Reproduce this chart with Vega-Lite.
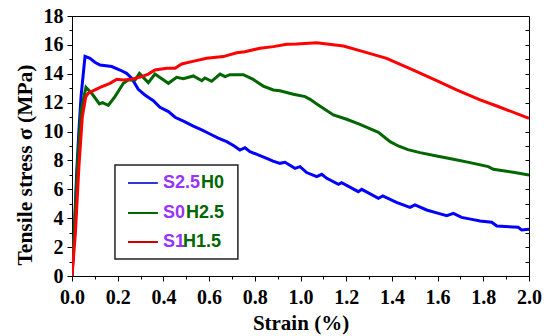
{
 "$schema": "https://vega.github.io/schema/vega-lite/v6.json",
 "width": 457, "height": 260,
 "autosize": {"type": "none"},
 "padding": {"left": 72, "top": 16, "right": 19, "bottom": 60},
 "background": "white",
 "config": {
  "view": {"stroke": "black", "strokeWidth": 1}
 },
 "datasets": {
  "curves": [
   {"series":"S2.5H0","strain":0,"stress":0},{"series":"S2.5H0","strain":0.01,"stress":3},{"series":"S2.5H0","strain":0.02,"stress":7},{"series":"S2.5H0","strain":0.03,"stress":10},{"series":"S2.5H0","strain":0.04,"stress":12.5},{"series":"S2.5H0","strain":0.057,"stress":15.2},{"series":"S2.5H0","strain":0.079,"stress":15.07},{"series":"S2.5H0","strain":0.1,"stress":14.8},{"series":"S2.5H0","strain":0.123,"stress":14.6},{"series":"S2.5H0","strain":0.174,"stress":14.5},{"series":"S2.5H0","strain":0.21,"stress":14.26},{"series":"S2.5H0","strain":0.239,"stress":14.03},{"series":"S2.5H0","strain":0.261,"stress":13.69},{"series":"S2.5H0","strain":0.29,"stress":12.92},{"series":"S2.5H0","strain":0.319,"stress":12.53},{"series":"S2.5H0","strain":0.356,"stress":12.14},{"series":"S2.5H0","strain":0.385,"stress":11.68},{"series":"S2.5H0","strain":0.422,"stress":11.38},{"series":"S2.5H0","strain":0.451,"stress":10.99},{"series":"S2.5H0","strain":0.49,"stress":10.7},{"series":"S2.5H0","strain":0.531,"stress":10.38},{"series":"S2.5H0","strain":0.57,"stress":10.1},{"series":"S2.5H0","strain":0.604,"stress":9.83},{"series":"S2.5H0","strain":0.64,"stress":9.55},{"series":"S2.5H0","strain":0.677,"stress":9.3},{"series":"S2.5H0","strain":0.71,"stress":9.0},{"series":"S2.5H0","strain":0.735,"stress":8.72},{"series":"S2.5H0","strain":0.757,"stress":8.88},{"series":"S2.5H0","strain":0.779,"stress":8.61},{"series":"S2.5H0","strain":0.82,"stress":8.35},{"series":"S2.5H0","strain":0.852,"stress":8.15},{"series":"S2.5H0","strain":0.88,"stress":7.95},{"series":"S2.5H0","strain":0.91,"stress":7.8},{"series":"S2.5H0","strain":0.932,"stress":7.87},{"series":"S2.5H0","strain":0.976,"stress":7.45},{"series":"S2.5H0","strain":0.998,"stress":7.57},{"series":"S2.5H0","strain":1.027,"stress":7.16},{"series":"S2.5H0","strain":1.071,"stress":6.88},{"series":"S2.5H0","strain":1.093,"stress":7.04},{"series":"S2.5H0","strain":1.115,"stress":6.76},{"series":"S2.5H0","strain":1.166,"stress":6.35},{"series":"S2.5H0","strain":1.18,"stress":6.46},{"series":"S2.5H0","strain":1.253,"stress":5.84},{"series":"S2.5H0","strain":1.268,"stress":6.0},{"series":"S2.5H0","strain":1.341,"stress":5.38},{"series":"S2.5H0","strain":1.36,"stress":5.54},{"series":"S2.5H0","strain":1.42,"stress":5.1},{"series":"S2.5H0","strain":1.479,"stress":4.75},{"series":"S2.5H0","strain":1.501,"stress":4.92},{"series":"S2.5H0","strain":1.552,"stress":4.57},{"series":"S2.5H0","strain":1.6,"stress":4.35},{"series":"S2.5H0","strain":1.64,"stress":4.18},{"series":"S2.5H0","strain":1.669,"stress":4.34},{"series":"S2.5H0","strain":1.705,"stress":4.06},{"series":"S2.5H0","strain":1.75,"stress":3.92},{"series":"S2.5H0","strain":1.786,"stress":3.81},{"series":"S2.5H0","strain":1.837,"stress":3.72},{"series":"S2.5H0","strain":1.859,"stress":3.46},{"series":"S2.5H0","strain":1.953,"stress":3.37},{"series":"S2.5H0","strain":1.968,"stress":3.18},{"series":"S2.5H0","strain":2.0,"stress":3.23},
   {"series":"S0H2.5","strain":0,"stress":0},{"series":"S0H2.5","strain":0.01,"stress":3},{"series":"S0H2.5","strain":0.025,"stress":8},{"series":"S0H2.5","strain":0.04,"stress":11.5},{"series":"S0H2.5","strain":0.061,"stress":13.06},{"series":"S0H2.5","strain":0.086,"stress":12.65},{"series":"S0H2.5","strain":0.12,"stress":11.91},{"series":"S0H2.5","strain":0.134,"stress":12.0},{"series":"S0H2.5","strain":0.159,"stress":11.82},{"series":"S0H2.5","strain":0.188,"stress":12.42},{"series":"S0H2.5","strain":0.225,"stress":13.34},{"series":"S0H2.5","strain":0.246,"stress":13.57},{"series":"S0H2.5","strain":0.276,"stress":13.57},{"series":"S0H2.5","strain":0.295,"stress":14.03},{"series":"S0H2.5","strain":0.334,"stress":13.39},{"series":"S0H2.5","strain":0.363,"stress":13.98},{"series":"S0H2.5","strain":0.422,"stress":13.34},{"series":"S0H2.5","strain":0.458,"stress":13.75},{"series":"S0H2.5","strain":0.487,"stress":13.66},{"series":"S0H2.5","strain":0.531,"stress":13.85},{"series":"S0H2.5","strain":0.568,"stress":13.52},{"series":"S0H2.5","strain":0.582,"stress":13.71},{"series":"S0H2.5","strain":0.611,"stress":13.48},{"series":"S0H2.5","strain":0.648,"stress":13.98},{"series":"S0H2.5","strain":0.67,"stress":13.8},{"series":"S0H2.5","strain":0.691,"stress":13.94},{"series":"S0H2.5","strain":0.75,"stress":13.94},{"series":"S0H2.5","strain":0.793,"stress":13.61},{"series":"S0H2.5","strain":0.837,"stress":13.15},{"series":"S0H2.5","strain":0.881,"stress":12.88},{"series":"S0H2.5","strain":0.91,"stress":12.83},{"series":"S0H2.5","strain":0.969,"stress":12.58},{"series":"S0H2.5","strain":1.02,"stress":12.42},{"series":"S0H2.5","strain":1.042,"stress":12.23},{"series":"S0H2.5","strain":1.071,"stress":11.91},{"series":"S0H2.5","strain":1.144,"stress":11.15},{"series":"S0H2.5","strain":1.202,"stress":10.85},{"series":"S0H2.5","strain":1.26,"stress":10.5},{"series":"S0H2.5","strain":1.341,"stress":9.95},{"series":"S0H2.5","strain":1.392,"stress":9.3},{"series":"S0H2.5","strain":1.428,"stress":9.0},{"series":"S0H2.5","strain":1.47,"stress":8.75},{"series":"S0H2.5","strain":1.523,"stress":8.54},{"series":"S0H2.5","strain":1.596,"stress":8.31},{"series":"S0H2.5","strain":1.669,"stress":8.08},{"series":"S0H2.5","strain":1.742,"stress":7.85},{"series":"S0H2.5","strain":1.822,"stress":7.57},{"series":"S0H2.5","strain":1.844,"stress":7.39},{"series":"S0H2.5","strain":1.931,"stress":7.18},{"series":"S0H2.5","strain":2.0,"stress":6.99},
   {"series":"S1H1.5","strain":0,"stress":0},{"series":"S1H1.5","strain":0.015,"stress":3},{"series":"S1H1.5","strain":0.03,"stress":7.5},{"series":"S1H1.5","strain":0.045,"stress":11},{"series":"S1H1.5","strain":0.06,"stress":12.4},{"series":"S1H1.5","strain":0.071,"stress":12.65},{"series":"S1H1.5","strain":0.123,"stress":13.06},{"series":"S1H1.5","strain":0.166,"stress":13.34},{"series":"S1H1.5","strain":0.196,"stress":13.62},{"series":"S1H1.5","strain":0.225,"stress":13.57},{"series":"S1H1.5","strain":0.261,"stress":13.62},{"series":"S1H1.5","strain":0.305,"stress":13.8},{"series":"S1H1.5","strain":0.334,"stress":13.98},{"series":"S1H1.5","strain":0.363,"stress":14.26},{"series":"S1H1.5","strain":0.414,"stress":14.38},{"series":"S1H1.5","strain":0.451,"stress":14.38},{"series":"S1H1.5","strain":0.48,"stress":14.68},{"series":"S1H1.5","strain":0.524,"stress":14.84},{"series":"S1H1.5","strain":0.589,"stress":15.07},{"series":"S1H1.5","strain":0.662,"stress":15.19},{"series":"S1H1.5","strain":0.721,"stress":15.46},{"series":"S1H1.5","strain":0.757,"stress":15.53},{"series":"S1H1.5","strain":0.823,"stress":15.77},{"series":"S1H1.5","strain":0.881,"stress":15.88},{"series":"S1H1.5","strain":0.94,"stress":16.04},{"series":"S1H1.5","strain":0.983,"stress":16.06},{"series":"S1H1.5","strain":1.071,"stress":16.15},{"series":"S1H1.5","strain":1.188,"stress":15.92},{"series":"S1H1.5","strain":1.275,"stress":15.53},{"series":"S1H1.5","strain":1.377,"stress":15.07},{"series":"S1H1.5","strain":1.494,"stress":14.26},{"series":"S1H1.5","strain":1.596,"stress":13.52},{"series":"S1H1.5","strain":1.683,"stress":12.88},{"series":"S1H1.5","strain":1.786,"stress":12.19},{"series":"S1H1.5","strain":1.859,"stress":11.77},{"series":"S1H1.5","strain":2.0,"stress":10.92}
  ]
 },
 "resolve": {"axis": {"x": "independent", "y": "independent"}},
 "layer": [
  {
   "data": {"name": "curves"},
   "mark": {"type": "line", "strokeWidth": 3, "clip": true},
   "encoding": {
    "x": {"field": "strain", "type": "quantitative", "scale": {"domain": [0, 2], "nice": false},
     "axis": {"values": [0,0.1,0.2,0.3,0.4,0.5,0.6,0.7,0.8,0.9,1.0,1.1,1.2,1.3,1.4,1.5,1.6,1.7,1.8,1.9,2.0],
      "labelExpr": "round(datum.value*10) % 2 === 0 ? format(datum.value, '.1f') : ''",
      "tickSize": {"condition": {"test": "round(datum.value*10) % 2 === 0", "value": 5}, "value": 3},
      "grid": false, "domainColor": "black", "tickColor": "black", "labelColor": "black", "titleColor": "black",
      "labelFont": "Liberation Serif", "titleFont": "Liberation Serif", "labelFontWeight": "bold", "titleFontWeight": "bold",
      "labelFontSize": 20, "titleFontSize": 21,
      "labelOverlap": false, "labelFlush": false, "labelPadding": 6, "title": "Strain (%)",
      "titleBaseline": "alphabetic", "titleY": 53, "titleX": 228.5, "titleAlign": "center"}},
    "y": {"field": "stress", "type": "quantitative", "scale": {"domain": [0, 18], "nice": false},
     "axis": {"values": [0,1,2,3,4,5,6,7,8,9,10,11,12,13,14,15,16,17,18],
      "labelExpr": "datum.value % 2 === 0 ? datum.label : ''",
      "tickSize": {"condition": {"test": "datum.value % 2 === 0", "value": 5}, "value": 3},
      "grid": false, "domainColor": "black", "tickColor": "black", "labelColor": "black", "titleColor": "black",
      "labelFont": "Liberation Serif", "titleFont": "Liberation Serif", "labelFontWeight": "bold", "titleFontWeight": "bold",
      "labelFontSize": 20, "titleFontSize": 21.5,
      "labelOverlap": false, "labelFlush": false, "labelPadding": 4, "title": "Tensile stress σ (MPa)",
      "titleBaseline": "alphabetic", "titleAngle": 270, "titleAlign": "left", "titleX": -40.5, "titleY": 249}},
    "color": {"field": "series", "type": "nominal", "legend": null,
     "scale": {"domain": ["S2.5H0", "S0H2.5", "S1H1.5"], "range": ["#0000ff", "#006600", "#ff0000"]}},
    "order": {"field": "strain", "type": "quantitative"}
   }
  },
  {
   "data": {"name": "curves"},
   "mark": {"type": "point", "opacity": 0},
   "encoding": {
    "x": {"field": "strain", "type": "quantitative", "scale": {"domain": [0, 2], "nice": false}, "axis": null},
    "y": {"field": "stress", "type": "quantitative", "scale": {"domain": [0, 18], "nice": false},
     "axis": {"orient": "right", "values": [1,2,3,4,5,6,7,8,9,10,11,12,13,14,15,16,17], "labels": false, "domain": false, "tickSize": -4, "tickColor": "black", "grid": false, "title": null}}
   }
  },
  {
   "data": {"values": [{"item": "box"}]},
   "mark": {"type": "rect", "fill": "white", "stroke": "#222222", "strokeWidth": 1.5},
   "encoding": {
    "x": {"datum": 0.188, "type": "quantitative", "scale": {"domain": [0, 2], "nice": false}, "axis": null},
    "x2": {"datum": 0.726},
    "y": {"datum": 7.685, "type": "quantitative", "scale": {"domain": [0, 18], "nice": false}, "axis": null},
    "y2": {"datum": 1.177}
   }
  },
  {
   "data": {"values": [{"item": "l1"}]},
   "mark": {"type": "rule", "stroke": "#3333dd", "strokeWidth": 2},
   "encoding": {
    "x": {"datum": 0.245, "type": "quantitative", "scale": {"domain": [0, 2], "nice": false}, "axis": null},
    "x2": {"datum": 0.376},
    "y": {"datum": 6.44, "type": "quantitative", "scale": {"domain": [0, 18], "nice": false}, "axis": null}
   }
  },
  {
   "data": {"values": [{"item": "l2"}]},
   "mark": {"type": "rule", "stroke": "#006600", "strokeWidth": 2},
   "encoding": {
    "x": {"datum": 0.245, "type": "quantitative", "scale": {"domain": [0, 2], "nice": false}, "axis": null},
    "x2": {"datum": 0.376},
    "y": {"datum": 4.36, "type": "quantitative", "scale": {"domain": [0, 18], "nice": false}, "axis": null}
   }
  },
  {
   "data": {"values": [{"item": "l3"}]},
   "mark": {"type": "rule", "stroke": "#cc0000", "strokeWidth": 2},
   "encoding": {
    "x": {"datum": 0.245, "type": "quantitative", "scale": {"domain": [0, 2], "nice": false}, "axis": null},
    "x2": {"datum": 0.376},
    "y": {"datum": 2.354, "type": "quantitative", "scale": {"domain": [0, 18], "nice": false}, "axis": null}
   }
  },
  {
   "data": {"values": [{"item": "t1"}]},
   "mark": {"type": "text", "text": "S2.5", "align": "left", "baseline": "middle", "font": "Liberation Sans", "fontWeight": "bold", "fontSize": 18, "color": "#9933ff"},
   "encoding": {
    "x": {"datum": 0.398, "type": "quantitative", "scale": {"domain": [0, 2], "nice": false}, "axis": null},
    "y": {"datum": 6.44, "type": "quantitative", "scale": {"domain": [0, 18], "nice": false}, "axis": null}
   }
  },
  {
   "data": {"values": [{"item": "t2"}]},
   "mark": {"type": "text", "text": "H0", "align": "left", "baseline": "middle", "font": "Liberation Sans", "fontWeight": "bold", "fontSize": 18, "color": "#006600"},
   "encoding": {
    "x": {"datum": 0.565, "type": "quantitative", "scale": {"domain": [0, 2], "nice": false}, "axis": null},
    "y": {"datum": 6.44, "type": "quantitative", "scale": {"domain": [0, 18], "nice": false}, "axis": null}
   }
  },
  {
   "data": {"values": [{"item": "t3"}]},
   "mark": {"type": "text", "text": "S0", "align": "left", "baseline": "middle", "font": "Liberation Sans", "fontWeight": "bold", "fontSize": 18, "color": "#9933ff"},
   "encoding": {
    "x": {"datum": 0.398, "type": "quantitative", "scale": {"domain": [0, 2], "nice": false}, "axis": null},
    "y": {"datum": 4.36, "type": "quantitative", "scale": {"domain": [0, 18], "nice": false}, "axis": null}
   }
  },
  {
   "data": {"values": [{"item": "t4"}]},
   "mark": {"type": "text", "text": "H2.5", "align": "left", "baseline": "middle", "font": "Liberation Sans", "fontWeight": "bold", "fontSize": 18, "color": "#006600"},
   "encoding": {
    "x": {"datum": 0.499, "type": "quantitative", "scale": {"domain": [0, 2], "nice": false}, "axis": null},
    "y": {"datum": 4.36, "type": "quantitative", "scale": {"domain": [0, 18], "nice": false}, "axis": null}
   }
  },
  {
   "data": {"values": [{"item": "t5"}]},
   "mark": {"type": "text", "text": "S1", "align": "left", "baseline": "middle", "font": "Liberation Sans", "fontWeight": "bold", "fontSize": 18, "color": "#9933ff"},
   "encoding": {
    "x": {"datum": 0.398, "type": "quantitative", "scale": {"domain": [0, 2], "nice": false}, "axis": null},
    "y": {"datum": 2.354, "type": "quantitative", "scale": {"domain": [0, 18], "nice": false}, "axis": null}
   }
  },
  {
   "data": {"values": [{"item": "t6"}]},
   "mark": {"type": "text", "text": "H1.5", "align": "left", "baseline": "middle", "font": "Liberation Sans", "fontWeight": "bold", "fontSize": 18, "color": "#006600"},
   "encoding": {
    "x": {"datum": 0.486, "type": "quantitative", "scale": {"domain": [0, 2], "nice": false}, "axis": null},
    "y": {"datum": 2.354, "type": "quantitative", "scale": {"domain": [0, 18], "nice": false}, "axis": null}
   }
  }
 ]
}
